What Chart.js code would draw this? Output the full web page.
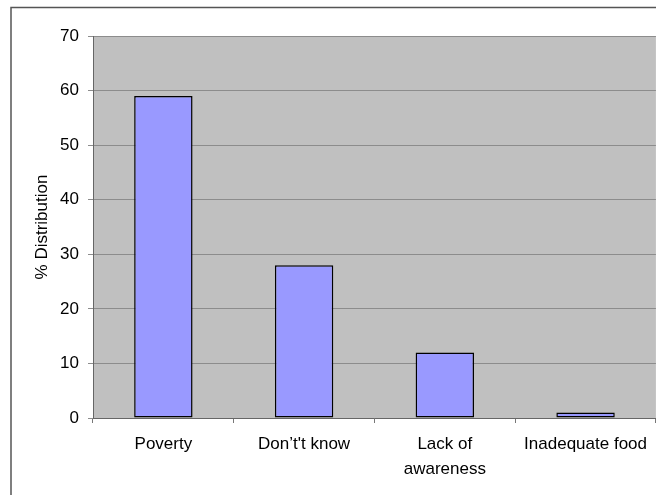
<!DOCTYPE html>
<html>
<head>
<meta charset="utf-8">
<script src="https://cdn.jsdelivr.net/npm/chart.js@4/dist/chart.umd.min.js"></script>
<style>
html,body{margin:0;padding:0;background:#fff;}
canvas{display:block;}
</style>
</head>
<body>
<canvas id="c" width="656" height="495"></canvas>
<script>
const categories = ["Poverty", "Don\u2019t't know", ["Lack of", "awareness"], "Inadequate food"];
const values = [59, 28, 12, 1];
const yTicks = [0, 10, 20, 30, 40, 50, 60, 70];
const yTitle = "% Distribution";

const FONT = "'Liberation Sans', Arial, sans-serif";

const framePlugin = {
  id: 'frame',
  beforeDraw(chart) {
    const {ctx, chartArea: a} = chart;
    ctx.save();
    ctx.fillStyle = '#c0c0c0';
    ctx.fillRect(a.left, a.top, a.right - a.left, a.bottom - a.top);
    ctx.strokeStyle = '#555555';
    ctx.lineWidth = 1.5;
    ctx.beginPath();
    ctx.moveTo(11, 495);
    ctx.lineTo(11, 7.5);
    ctx.lineTo(656, 7.5);
    ctx.stroke();
    ctx.restore();
  }
};

new Chart(document.getElementById('c'), {
  type: 'bar',
  data: {
    labels: categories,
    datasets: [{
      data: values,
      backgroundColor: '#9999ff',
      borderColor: '#000000',
      borderWidth: 1.5,
      borderSkipped: false,
      barPercentage: 0.415,
      categoryPercentage: 1
    }]
  },
  options: {
    responsive: false,
    animation: false,
    devicePixelRatio: 1,
    layout: { padding: { top: 36, right: 0, left: 0, bottom: 0 } },
    plugins: { legend: { display: false }, tooltip: { enabled: false } },
    scales: {
      x: {
        afterFit: s => { s.height = 77; },
        grid: { display: true, drawOnChartArea: false, drawTicks: true, tickLength: 5, color: '#777777', offset: true },
        border: { display: true, color: '#666666', width: 1 },
        ticks: { color: '#000', padding: 9, maxRotation: 0, autoSkip: false,
          font: { family: FONT, size: 17, lineHeight: 1.45 } }
      },
      y: {
        min: 0, max: 70,
        afterFit: s => { s.width = 93; },
        afterBuildTicks: s => { s.ticks = yTicks.map(v => ({ value: v })); },
        grid: { color: '#8c8c8c', lineWidth: 1, tickLength: 5 },
        border: { display: true, color: '#666666', width: 1 },
        ticks: { color: '#000', padding: 9, font: { family: FONT, size: 17 } },
        title: { display: true, text: yTitle, color: '#000',
          font: { family: FONT, size: 17, lineHeight: 1.2 }, padding: { top: 31.8, bottom: 0 } }
      }
    }
  },
  plugins: [framePlugin]
});
</script>
</body>
</html>
